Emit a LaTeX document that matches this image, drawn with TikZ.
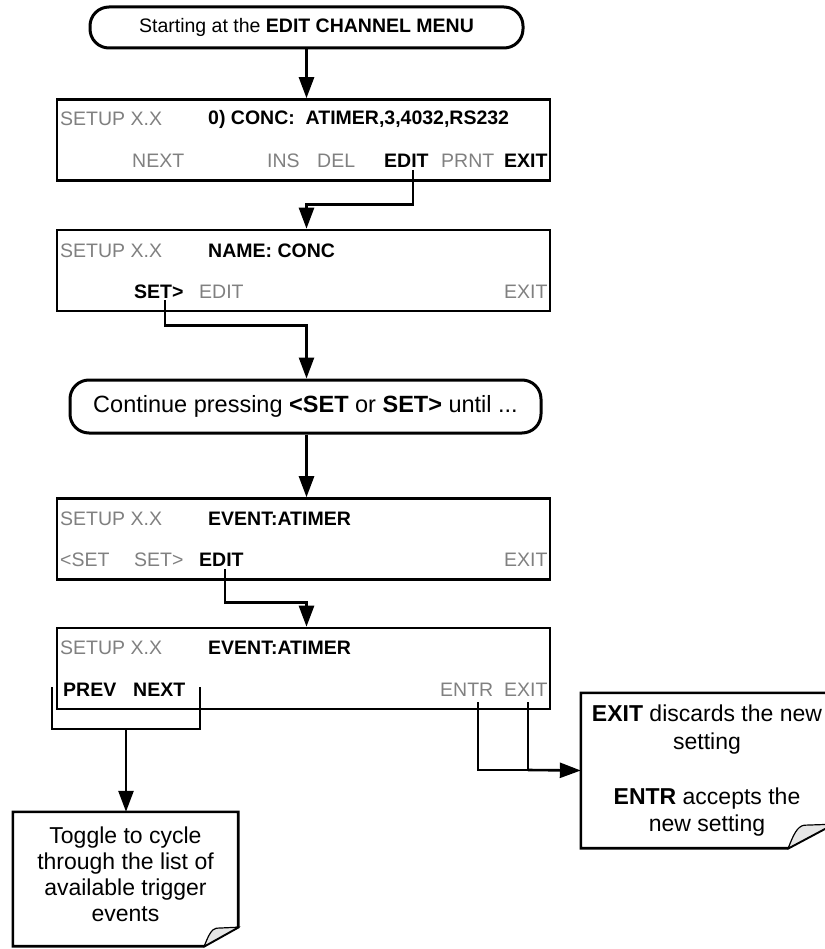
\documentclass[tikz,border=0pt]{standalone}
\usepackage{fontspec}
\setmainfont{Liberation Sans}
\usetikzlibrary{arrows.meta}
\definecolor{lcdgray}{RGB}{128,128,128}
\definecolor{curlgray}{RGB}{230,230,230}
\begin{document}
\begin{tikzpicture}[x=1pt,y=-1pt,
  conn/.style={line width=2.6pt},
  arr/.style={line width=2.6pt,-{Triangle[length=21pt,width=15pt]}},
  screen/.style={draw,line width=2.6pt,inner sep=0,minimum width=493pt,minimum height=81pt},
  capsule/.style={draw,line width=3pt,rounded corners=19pt,inner sep=0},
  g/.style={anchor=west,inner sep=0,text=lcdgray,font=\fontsize{19.5}{22}\selectfont},
  b/.style={anchor=west,inner sep=0,font=\fontsize{19.5}{22}\selectfont\bfseries},
  notebox/.style={inner sep=0},
  notetext/.style={inner sep=0,align=center,font=\fontsize{23}{26}\selectfont},
  ]
\useasboundingbox (0,0) rectangle (824,949);

% start capsule
\node[capsule,minimum width=433pt,minimum height=41pt,font=\fontsize{19.5}{22}\selectfont] (start) at (306.5,27.5) {Starting at the \textbf{EDIT CHANNEL MENU}};

% screen 1
\node[screen] (s1) at (303.5,140) {};
\node[g] (s1a) at (60,119) {SETUP X.X};
\node[b] (s1b) at (208,119) {0) CONC:\ \ ATIMER,3,4032,RS232};
\node[g] (s1n) at (132,161) {NEXT};
\node[g] (s1i) at (267,161) {INS};
\node[g] (s1d) at (317,161) {DEL};
\node[b] (s1e) at (384,161) {EDIT};
\node[g] (s1p) at (441,161) {PRNT};
\node[b] (s1x) at (504,161) {EXIT};

% screen 2
\node[screen] (s2) at (303.5,270.5) {};
\node[g] (s2a) at (60,251) {SETUP X.X};
\node[b] (s2b) at (208,251) {NAME: CONC};
\node[b] (s2s) at (134,292) {SET>};
\node[g] (s2e) at (199,292) {EDIT};
\node[g] (s2x) at (504,292) {EXIT};

% continue capsule
\node[capsule,minimum width=471pt,minimum height=53pt,font=\fontsize{23.5}{26}\selectfont] (cont) at (305.5,406.5) {Continue pressing \textbf{<SET} or \textbf{SET>} until ...};

% screen 3
\node[screen] (s3) at (303.5,539) {};
\node[g] (s3a) at (60,519) {SETUP X.X};
\node[b] (s3b) at (208,519) {EVENT:ATIMER};
\node[g] (s3l) at (60,560) {<SET};
\node[g] (s3r) at (134,560) {SET>};
\node[b] (s3e) at (199,560) {EDIT};
\node[g] (s3x) at (504,560) {EXIT};

% screen 4
\node[screen] (s4) at (303.5,668.5) {};
\node[g] (s4a) at (60,648) {SETUP X.X};
\node[b] (s4b) at (208,648) {EVENT:ATIMER};
\node[b] (s4p) at (63,690) {PREV};
\node[b] (s4n) at (133,690) {NEXT};
\node[g] (s4en) at (440,690) {ENTR};
\node[g] (s4x) at (504,690) {EXIT};

% toggle note
\node[notebox,minimum width=225pt,minimum height=134pt] (toggle) at (125.5,879) {};
\draw[conn] (toggle.south west) -- (toggle.north west) -- (toggle.north east)
  -- ([yshift=19pt]toggle.south east) -- ([xshift=-34pt]toggle.south east) -- cycle;
\filldraw[fill=curlgray,line width=1.2pt] ([xshift=-34pt]toggle.south east)
  .. controls ([xshift=-30pt,yshift=10pt]toggle.south east) and ([xshift=-27pt,yshift=17pt]toggle.south east)
  .. ([xshift=-22pt,yshift=18pt]toggle.south east) -- ([yshift=19pt]toggle.south east) -- cycle;
\node[notetext] (toggletext) at (125.5,874) {Toggle to cycle\\through the list of\\available trigger\\events};

% exit note
\node[notebox,minimum width=252pt,minimum height=155pt] (exitnote) at (707,770.5) {};
\draw[conn] (exitnote.south west) -- (exitnote.north west) -- (exitnote.north east)
  -- ([yshift=24pt]exitnote.south east) -- ([xshift=-45pt]exitnote.south east) -- cycle;
\filldraw[fill=curlgray,line width=1.2pt] ([xshift=-45pt]exitnote.south east)
  .. controls ([xshift=-40pt,yshift=13pt]exitnote.south east) and ([xshift=-36pt,yshift=22pt]exitnote.south east)
  .. ([xshift=-29pt,yshift=23pt]exitnote.south east) -- ([yshift=24pt]exitnote.south east) -- cycle;
\node[notetext,font=\fontsize{23}{27.5}\selectfont] (exittext) at (707,771) {\textbf{EXIT} discards the new\\setting\\\mbox{}\\\textbf{ENTR} accepts the\\new setting};

% connectors
\draw[arr] (start.south) -- (s1.north -| start.south);

\coordinate (c1) at (413,170);
\draw[arr] (c1) |- ([yshift=24pt]s2.north -| start.south) -- (s2.north -| start.south);

\coordinate (c2) at (165,300);
\draw[arr] (c2) |- ([yshift=53pt]cont.north -| start.south) -- (cont.north -| start.south);

\draw[arr] (cont.south -| start.south) -- (s3.north -| start.south);

\coordinate (c3) at (225,569);
\draw[arr] (c3) |- ([yshift=24pt]s4.north -| start.south) -- (s4.north -| start.south);

\coordinate (pl) at (52,687);
\coordinate (pr) at (200,687);
\draw[conn] (pl) -- (52,729) -- (200,729) -- (pr);
\draw[arr] (126,729) -- (toggle.north -| 126,0);

\coordinate (en) at (478,702);
\coordinate (ex) at (528,702);
\draw[conn] (en) -- (478,770) -- (528,770);
\draw[conn] (ex) -- (528,770);
\draw[arr] (528,770) -- (exitnote.west);
\end{tikzpicture}
\end{document}
